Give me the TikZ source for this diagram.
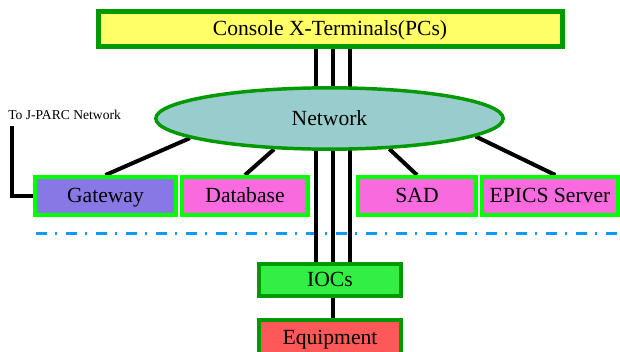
\documentclass[tikz,border=0pt]{standalone}
\usepackage{fontspec}
\setmainfont{Liberation Serif}
\usetikzlibrary{shapes.geometric,backgrounds}
\definecolor{darkgreen}{HTML}{009900}
\definecolor{lightgreen}{HTML}{00FF00}
\definecolor{pcsyellow}{HTML}{FFFF66}
\definecolor{netcyan}{HTML}{99CCCC}
\definecolor{gwpurple}{HTML}{8878E6}
\definecolor{srvpink}{HTML}{F86ADE}
\definecolor{iocgreen}{HTML}{33EE44}
\definecolor{eqred}{HTML}{FF5858}
\definecolor{lineblue}{HTML}{0A9BFF}

\begin{document}
\begin{tikzpicture}
  [x=0.75pt,y=-0.75pt,
   every node/.style={inner sep=0pt,font=\fontsize{16.2}{19}\selectfont},
   darkbox/.style={rectangle,draw=darkgreen,line width=3pt,text height=12pt,text depth=2pt},
   lightbox/.style={rectangle,draw=lightgreen,line width=3pt,minimum height=28.5pt,text height=12pt,text depth=2pt},
   link/.style={line width=3pt}]
  \useasboundingbox (0,0) rectangle (620,352);
  \node[darkbox,line width=3.75pt,fill=pcsyellow,minimum width=348pt,minimum height=26.25pt] (pcs) at (330,29) {Console X-Terminals(PCs)};
  \node[ellipse,draw=darkgreen,line width=2.6pt,fill=netcyan,minimum width=260.5pt,minimum height=46pt] (net) at (329.5,118.5) {Network};
  \node[lightbox,fill=gwpurple,minimum width=105.75pt] (gw) at (105.5,196) {Gateway};
  \node[lightbox,fill=srvpink,minimum width=94.5pt] (db) at (245,196) {Database};
  \node[lightbox,fill=srvpink,minimum width=88.5pt] (sad) at (417,196) {SAD};
  \node[lightbox,fill=srvpink,minimum width=102pt] (epics) at (550,196) {EPICS Server};
  \node[darkbox,fill=iocgreen,minimum width=106.5pt,minimum height=24pt] (ioc) at (330,280) {IOCs};
  \node[darkbox,fill=eqred,minimum width=106.5pt,minimum height=27pt] (equip) at (330,338) {Equipment};
  \node[font=\fontsize{10.2}{12}\selectfont,anchor=west] (jtext) at (8,115) {To J-PARC Network};
  \coordinate (jtop) at (12,126);
  \coordinate (sepl) at (36,234);
  \coordinate (sepr) at (620,234);
  \begin{scope}[on background layer]
    \draw[lineblue,line width=2.25pt,dash pattern=on 8.25pt off 5.8pt on 1.9pt off 6.55pt] (sepl) -- (sepr);
    \foreach \dx in {-10.5,2.25,15}
      \draw[link] ([xshift=\dx pt]pcs.south) -- ([xshift=\dx pt]ioc.north);
    \draw[link] ([xshift=2.25pt]ioc.south) -- ([xshift=2.25pt]equip.north);
    \foreach \from/\to in {net.188/gw.north,net.209/db.north,net.333/sad.north}
      \draw[link] (\from) -- (\to);
    \draw[link] (net.353) -- ([xshift=4pt]epics.north);
    \draw[link] (jtop) |- (gw.west);
  \end{scope}
\end{tikzpicture}
\end{document}
